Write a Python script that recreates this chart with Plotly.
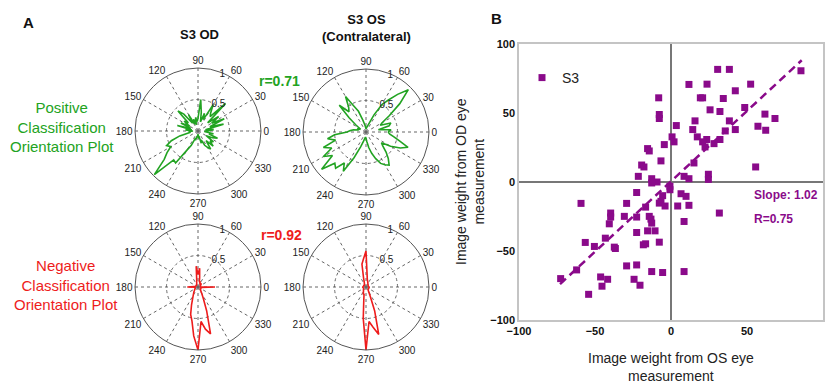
import plotly.graph_objects as go

W, H = 832, 385
FONT = "Liberation Sans, Arial, sans-serif"
GREEN = "#22a322"
RED = "#ee1c1c"
PURPLE = "#8a0a8a"

# ---- Panel A data: orientation plots (angle in degrees, radius 0..1) ----
angles = list(range(0, 360, 5))

od_pos = [0.15, 0.25, 0.12, 0.42, 0.2, 0.46, 0.25, 0.4, 0.2, 0.62, 0.3, 0.35,
          0.48, 0.2, 0.3, 0.15, 0.3, 0.5, 0.2, 0.15, 0.22, 0.1, 0.2, 0.12,
          0.3, 0.15, 0.35, 0.45, 0.2, 0.27, 0.15, 0.3, 0.12, 0.34, 0.1, 0.2,
          0.08, 0.15, 0.12, 0.3, 0.45, 0.55, 0.5, 0.6, 0.7, 0.98, 0.6, 0.62,
          0.35, 0.25, 0.12, 0.15, 0.08, 0.1, 0.05, 0.12, 0.08, 0.2, 0.15, 0.25,
          0.3, 0.35, 0.2, 0.34, 0.25, 0.3, 0.15, 0.25, 0.33, 0.18, 0.25, 0.1]

os_pos = [0.35, 0.4, 0.2, 0.38, 0.42, 0.25, 0.3, 0.45, 0.7, 0.95, 0.78, 0.62,
          0.5, 0.3, 0.15, 0.1, 0.08, 0.06, 0.05, 0.08, 0.12, 0.2, 0.35, 0.45,
          0.65, 0.48, 0.42, 0.6, 0.35, 0.2, 0.12, 0.1, 0.15, 0.12, 0.2, 0.25,
          0.3, 0.5, 0.62, 0.5, 0.72, 0.6, 0.78, 0.65, 0.92, 0.7, 0.75, 0.6,
          0.72, 0.45, 0.25, 0.15, 0.1, 0.08, 0.1, 0.15, 0.25, 0.35, 0.45, 0.55,
          0.6, 0.64, 0.55, 0.45, 0.35, 0.3, 0.45, 0.6, 0.71, 0.55, 0.45, 0.38]

od_neg = [0.27, 0.05, 0.03, 0.04, 0.03, 0.05, 0.04, 0.06, 0.05, 0.08, 0.05, 0.06,
          0.08, 0.06, 0.1, 0.08, 0.15, 0.3, 0.2, 0.33, 0.12, 0.08, 0.06, 0.05,
          0.04, 0.05, 0.03, 0.04, 0.03, 0.04, 0.03, 0.04, 0.03, 0.04, 0.05, 0.06,
          0.17, 0.05, 0.04, 0.05, 0.04, 0.06, 0.05, 0.06, 0.07, 0.08, 0.1, 0.12,
          0.15, 0.2, 0.3, 0.45, 0.55, 0.78, 1.0, 0.55, 0.68, 0.77, 0.4, 0.2,
          0.12, 0.08, 0.06, 0.05, 0.06, 0.04, 0.05, 0.06, 0.04, 0.05, 0.04, 0.06]

os_neg = [0.06, 0.04, 0.05, 0.03, 0.04, 0.03, 0.05, 0.04, 0.05, 0.04, 0.06, 0.05,
          0.06, 0.07, 0.08, 0.1, 0.12, 0.2, 0.57, 0.45, 0.37, 0.15, 0.08, 0.06,
          0.05, 0.04, 0.05, 0.04, 0.03, 0.04, 0.03, 0.04, 0.05, 0.04, 0.05, 0.04,
          0.06, 0.05, 0.04, 0.05, 0.04, 0.05, 0.04, 0.05, 0.06, 0.05, 0.06, 0.07,
          0.08, 0.1, 0.12, 0.12, 0.2, 0.5, 1.0, 0.55, 0.65, 0.78, 0.4, 0.15,
          0.08, 0.06, 0.05, 0.06, 0.04, 0.05, 0.04, 0.05, 0.04, 0.06, 0.05, 0.04]

angle_ticks = list(range(0, 360, 30))
radial_ticks = [0.5, 1]
radial_labels = ["0.5", "1"]

# ---- Panel B data: image weights ----
os_weight = [30.7, 38.4, 85.5, 11.8, 23.7, 52.4, 42.3, 19.3, 20.8, 34.4, -8.1, 25.7,
             32.2, 48.5, 61.8, 68.4, -7.7, -7.7, 15.8, 38.4, 3.5, 14.3, 35.7, 42.3,
             57.2, 62.3, 17.3, 0.7, 2.0, 23.5, 20.8, 32.2, 28.3, 22.4, -4.4, -15.4,
             -14.3, -6.6, 15.1, 55.7, -19.3, -17.8, -21.5, -12.7, -9.2, -12.7, 8.6, 11.8,
             24.6, 24.6, -0.7, -0.7, -22.6, -5.5, -6.6, -7.7, -3.9, 6.6, 9.9, -59.2,
             -29.2, 4.4, 11.8, -16.7, -39.7, -39.7, -30.7, -22.6, -14.3, -13.2, -12.7, -40.6,
             8.6, 31.8, -15.4, -10.5, -22.6, -43.2, -56.4, -50.4, -37.3, -36.6, -18.2, -16.7,
             -7.7, -62.1, -29.2, -22.6, -12.7, -5.5, 8.6, -72.6, -46.3, -41.7, -24.3, -45.4,
             -20.4, -54.2]
od_weight = [81.6, 81.6, 80.6, 70.7, 70.9, 70.9, 66.1, 61.0, 61.0, 60.5, 61.0, 52.3,
             51.1, 54.0, 49.2, 46.0, 48.9, 46.0, 44.3, 44.3, 40.9, 38.0, 37.0, 38.0,
             40.4, 37.5, 32.7, 32.7, 29.1, 30.8, 29.1, 30.8, 27.8, 25.4, 27.1, 24.2,
             22.5, 15.3, 13.8, 10.9, 12.3, 10.9, 4.1, 2.4, 0.0, -0.7, 4.1, 2.4,
             5.6, 1.9, -3.1, -5.6, -7.6, -9.9, -14.0, -15.3, -17.4, -8.5, -10.4, -15.5,
             -15.5, -17.4, -16.9, -18.2, -22.5, -25.4, -24.9, -25.4, -24.9, -26.9, -29.8, -30.3,
             -28.6, -22.5, -35.4, -35.4, -36.6, -40.7, -43.8, -46.7, -47.2, -48.2, -45.5, -44.8,
             -43.6, -63.7, -60.8, -60.1, -64.9, -65.6, -64.9, -70.0, -68.8, -70.5, -70.5, -75.5,
             -74.8, -81.4]
slope = 1.02
intercept = 0.5
fit_x = [-73, 86]
axis_ticks = [-100, -50, 0, 50, 100]

fig = go.Figure()

def closed(vals):
    return vals + [vals[0]]

polars = [
    ("polar", od_pos, GREEN, 198, 131),
    ("polar2", os_pos, GREEN, 366, 132),
    ("polar3", od_neg, RED, 198, 287),
    ("polar4", os_neg, RED, 366, 287),
]
R = 63
for name, vals, col, cx, cy in polars:
    fig.add_trace(go.Scatterpolar(
        r=closed(vals), theta=closed(angles), mode="lines",
        line=dict(color=col, width=1.6), subplot=name, showlegend=False,
        hoverinfo="skip"))
    fig.layout[name] = dict(
        domain=dict(x=[(cx - R) / W, (cx + R) / W], y=[1 - (cy + R) / H, 1 - (cy - R) / H]),
        bgcolor="rgba(0,0,0,0)",
        angularaxis=dict(rotation=0, direction="counterclockwise", tickmode="array",
                         tickvals=angle_ticks, ticktext=[str(a) for a in angle_ticks],
                         showline=True, linecolor="#555", linewidth=1,
                         gridcolor="#666", griddash="dot", gridwidth=1, ticks="",
                         tickfont=dict(family=FONT, size=10, color="#222")),
        radialaxis=dict(range=[0, 1], tickmode="array", tickvals=radial_ticks,
                        ticktext=radial_labels, angle=75, tickangle=75, showline=False,
                        ticks="", gridcolor="#666", griddash="dot", gridwidth=1,
                        tickfont=dict(family=FONT, size=10, color="#222")),
    )

# scatter
fig.add_trace(go.Scatter(
    x=os_weight, y=od_weight, mode="markers", name="S3",
    marker=dict(symbol="square", size=7, color=PURPLE),
    xaxis="x", yaxis="y", showlegend=True))
fig.add_trace(go.Scatter(
    x=fit_x, y=[slope * v + intercept for v in fit_x], mode="lines",
    line=dict(color=PURPLE, width=2.5, dash="8px,5px"),
    xaxis="x", yaxis="y", showlegend=False))

x0, x1, y0, y1 = 519, 823, 44, 320
axfont = dict(family=FONT, size=11, color="#111", weight="bold")
fig.update_layout(
    width=W, height=H, margin=dict(l=0, r=0, t=0, b=0, autoexpand=False),
    paper_bgcolor="white", plot_bgcolor="white",
    font=dict(family=FONT),
    xaxis=dict(domain=[x0 / W, x1 / W], range=[-100, 100], tickvals=axis_ticks,
               showgrid=False, zeroline=True, zerolinecolor="#777", zerolinewidth=1.5,
               showline=True, mirror=True, linecolor="#c4c4c4", linewidth=1.5,
               ticks="", tickfont=axfont, anchor="y", automargin=False),
    yaxis=dict(domain=[1 - y1 / H, 1 - y0 / H], range=[-100, 100], tickvals=axis_ticks,
               showgrid=False, zeroline=True, zerolinecolor="#777", zerolinewidth=1.5,
               showline=True, mirror=True, linecolor="#c4c4c4", linewidth=1.5,
               ticks="", tickfont=axfont, anchor="x", automargin=False),
    legend=dict(x=522 / W, y=1 - 62 / H, xanchor="left", yanchor="top",
                bgcolor="rgba(0,0,0,0)", font=dict(family=FONT, size=14, color="#222"),
                itemwidth=30),
)

def ann(text, x, y, size, color="#111", bold=False, angle=0, align="center"):
    if bold:
        text = "<b>" + text + "</b>"
    fig.add_annotation(text=text, x=x / W, y=1 - y / H, xref="paper", yref="paper",
                       showarrow=False, font=dict(family=FONT, size=size, color=color),
                       xanchor="center", yanchor="middle", textangle=angle, align=align)

ann("A", 28, 22, 15, bold=True)
ann("B", 496, 18, 15, bold=True)
ann("S3 OD", 199, 34, 13, bold=True)
ann("S3 OS<br>(Contralateral)", 366, 28, 13, bold=True)
ann("r=0.71", 279, 81, 14, color=GREEN, bold=True)
ann("r=0.92", 281, 235, 14, color=RED, bold=True)
ann("Positive<br>Classification<br>Orientation Plot", 62, 127, 15, color=GREEN)
ann("Negative<br>Classification<br>Orientation Plot", 66, 285, 15, color=RED)
ann("Slope: 1.02", 786, 195, 12, color=PURPLE, bold=True)
ann("R=0.75", 773, 219, 12, color=PURPLE, bold=True)
ann("Image weight from OS eye<br>measurement", 671, 367, 14, color="#222")
ann("Image weight from OD eye<br>measurement", 470, 182, 14, color="#222", angle=-90)

fig.write_html("out.html", config={"displayModeBar": False},
               post_script="document.body.style.margin='0px';")
